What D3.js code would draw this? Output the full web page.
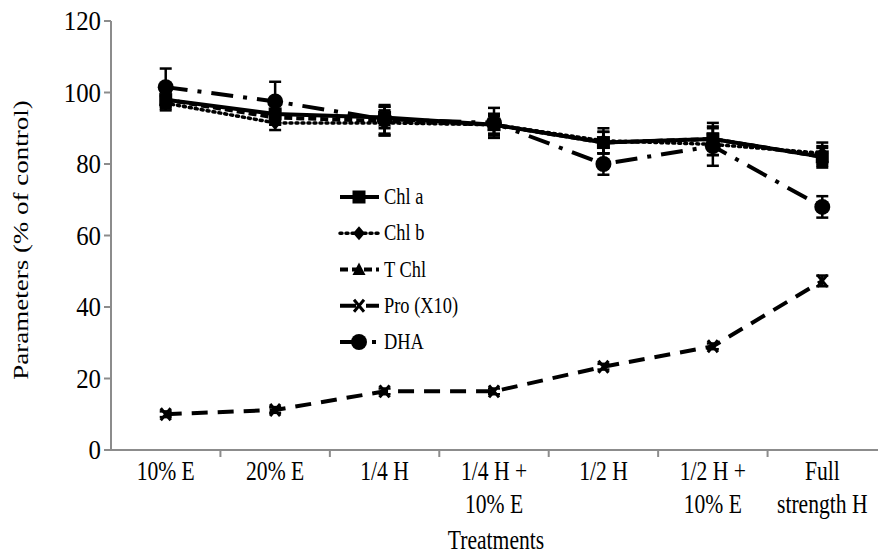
<!DOCTYPE html>
<html lang="en">
  <head>
    <meta charset="UTF-8" />
    <title>Parameters by treatment</title>
    <script src="https://cdnjs.cloudflare.com/ajax/libs/d3/7.8.5/d3.min.js"></script>
    <style>
      body {
        margin: 0;
        background: #fff;
      }
      svg text {
        font-family: 'Liberation Serif', 'Times New Roman', serif;
        fill: #000;
      }
      .axis line {
        stroke: #8c8c8c;
        stroke-width: 2px;
      }
    </style>
  </head>
  <body>
    <svg width="878" height="554"></svg>
    <script>
      // Data
      const treatments = [
        ['10% E'],
        ['20% E'],
        ['1/4 H'],
        ['1/4 H +', '10% E'],
        ['1/2 H'],
        ['1/2 H +', '10% E'],
        ['Full', 'strength H'],
      ];
      const yTicks = [0, 20, 40, 60, 80, 100, 120];

      const chlA = [98, 94, 93, 91, 86, 87, 82];
      const chlAErr = [2.5, 3, 3, 2.5, 3, 4.5, 3];
      const chlB = [97, 91.5, 91.5, 91, 86.5, 85.5, 83];
      const chlBErr = [2, 2, 3.5, 3, 3.5, 3, 3];
      const tChl = [98, 93, 92, 91, 86, 87, 82];
      const tChlErr = [2, 2, 4, 3, 3, 3, 2.5];
      const pro = [10, 11.2, 16.4, 16.4, 23.3, 29, 47.3];
      const proErr = [0.8, 0.8, 0.8, 0.8, 0.8, 0.8, 1.5];
      const dha = [101.5, 97.5, 92.5, 91.5, 80, 85, 68];
      const dhaErr = [5.2, 5.5, 4, 4.2, 3, 5.5, 3];

      const series = [
        { name: 'Chl a', values: chlA, err: chlAErr, dash: null, marker: 'square' },
        { name: 'Chl b', values: chlB, err: chlBErr, dash: '2,4', marker: 'diamond' },
        { name: 'T Chl', values: tChl, err: tChlErr, dash: '8,4', marker: 'triangle' },
        { name: 'Pro (X10)', values: pro, err: proErr, dash: '16,10', marker: 'cross' },
        { name: 'DHA', values: dha, err: dhaErr, dash: '22,10,4,10', marker: 'circle' },
      ];

      const svg = d3.select('svg');
      const plotLeft = 111,
        plotRight = 877,
        plotTop = 21,
        plotBottom = 450;
      // the source figure's text is narrow, as if squeezed sideways
      const squeeze = 0.8;

      const x = d3
        .scaleBand()
        .domain(d3.range(treatments.length))
        .range([plotLeft, plotRight]);
      const y = d3.scaleLinear().domain([0, 120]).range([plotBottom, plotTop]);
      const cx = i => x(i) + x.bandwidth() / 2;

      // y axis
      const yg = svg.append('g').attr('class', 'axis');
      yg.append('line')
        .attr('x1', plotLeft)
        .attr('x2', plotLeft)
        .attr('y1', y(120))
        .attr('y2', y(0));
      yg.selectAll('.tick')
        .data(yTicks)
        .join('line')
        .attr('x1', plotLeft - 7)
        .attr('x2', plotLeft)
        .attr('y1', d => y(d))
        .attr('y2', d => y(d));
      svg
        .append('g')
        .selectAll('text')
        .data(yTicks)
        .join('text')
        .attr('transform', d => `translate(101,${y(d) + 9}) scale(0.92,1)`)
        .attr('text-anchor', 'end')
        .style('font-size', '27px')
        .text(d => d);

      // x axis, ticks at category boundaries
      const xg = svg.append('g').attr('class', 'axis');
      xg.append('line')
        .attr('x1', plotLeft)
        .attr('x2', plotRight + 1)
        .attr('y1', plotBottom)
        .attr('y2', plotBottom);
      xg.selectAll('.tk')
        .data(d3.range(1, treatments.length))
        .join('line')
        .attr('x1', i => x(i))
        .attr('x2', i => x(i))
        .attr('y1', plotBottom)
        .attr('y2', plotBottom + 7);

      svg
        .append('g')
        .selectAll('text')
        .data(treatments)
        .join('text')
        .attr('text-anchor', 'middle')
        .attr('transform', (d, i) => `translate(${cx(i)},480) scale(${squeeze},1)`)
        .style('font-size', '27px')
        .selectAll('tspan')
        .data(d => d)
        .join('tspan')
        .attr('x', 0)
        .attr('y', (d, i) => i * 33)
        .text(d => d);

      svg
        .append('text')
        .attr('transform', `translate(${(plotLeft + plotRight) / 2 + 2},549) scale(${squeeze},1)`)
        .attr('text-anchor', 'middle')
        .style('font-size', '27px')
        .text('Treatments');

      svg
        .append('text')
        .attr('transform', `translate(28,240) rotate(-90) scale(1,${squeeze})`)
        .attr('text-anchor', 'middle')
        .style('font-size', '27px')
        .text('Parameters (% of control)');

      function drawMarker(g, type, px, py) {
        if (type === 'square') {
          g.append('rect').attr('x', px - 6.5).attr('y', py - 6.5).attr('width', 13).attr('height', 13);
        } else if (type === 'diamond') {
          g.append('path').attr('d', `M${px},${py - 7}L${px + 6},${py}L${px},${py + 7}L${px - 6},${py}Z`);
        } else if (type === 'triangle') {
          g.append('path').attr('d', `M${px},${py - 7}L${px + 6.5},${py + 5.5}L${px - 6.5},${py + 5.5}Z`);
        } else if (type === 'circle') {
          g.append('circle').attr('cx', px).attr('cy', py).attr('r', 8);
        } else {
          g.append('path')
            .attr('d', `M${px - 5},${py - 6}L${px + 5},${py + 6}M${px - 5},${py + 6}L${px + 5},${py - 6}`)
            .attr('stroke', '#000')
            .attr('stroke-width', 3);
        }
      }

      const line = d3
        .line()
        .x((d, i) => cx(i))
        .y(d => y(d));

      // error bars
      series.forEach(s => {
        const eg = svg.append('g').attr('stroke', '#000').attr('stroke-width', 2.5);
        s.values.forEach((v, i) => {
          const x0 = cx(i);
          const y1 = y(v + s.err[i]),
            y2 = y(v - s.err[i]);
          eg.append('line').attr('x1', x0).attr('x2', x0).attr('y1', y1).attr('y2', y2);
          eg.append('line').attr('x1', x0 - 6).attr('x2', x0 + 6).attr('y1', y1).attr('y2', y1);
          eg.append('line').attr('x1', x0 - 6).attr('x2', x0 + 6).attr('y1', y2).attr('y2', y2);
        });
      });

      // lines and markers
      const strokeW = s => (s.marker === 'diamond' ? 3.5 : 4);
      series.forEach(s => {
        svg
          .append('path')
          .datum(s.values)
          .attr('fill', 'none')
          .attr('stroke', '#000')
          .attr('stroke-width', strokeW(s))
          .attr('stroke-linecap', s.marker === 'diamond' ? 'round' : 'butt')
          .attr('stroke-dasharray', s.dash)
          .attr('d', line);
        const mg = svg.append('g').attr('fill', '#000');
        s.values.forEach((v, i) => drawMarker(mg, s.marker, cx(i), y(v)));
      });

      // legend
      const legY = d3.scaleLinear().domain([0, 4]).range([197, 342]);
      series.forEach((s, i) => {
        const ly = legY(i);
        svg
          .append('line')
          .attr('x1', 340)
          .attr('x2', 379)
          .attr('y1', ly)
          .attr('y2', ly)
          .attr('stroke', '#000')
          .attr('stroke-width', strokeW(s))
          .attr('stroke-linecap', s.marker === 'diamond' ? 'round' : 'butt')
          .attr('stroke-dasharray', s.dash);
        drawMarker(svg.append('g').attr('fill', '#000'), s.marker, 359, ly);
        svg
          .append('text')
          .attr('transform', `translate(384,${ly + 7}) scale(${squeeze},1)`)
          .style('font-size', '23px')
          .text(s.name);
      });
    </script>
  </body>
</html>
